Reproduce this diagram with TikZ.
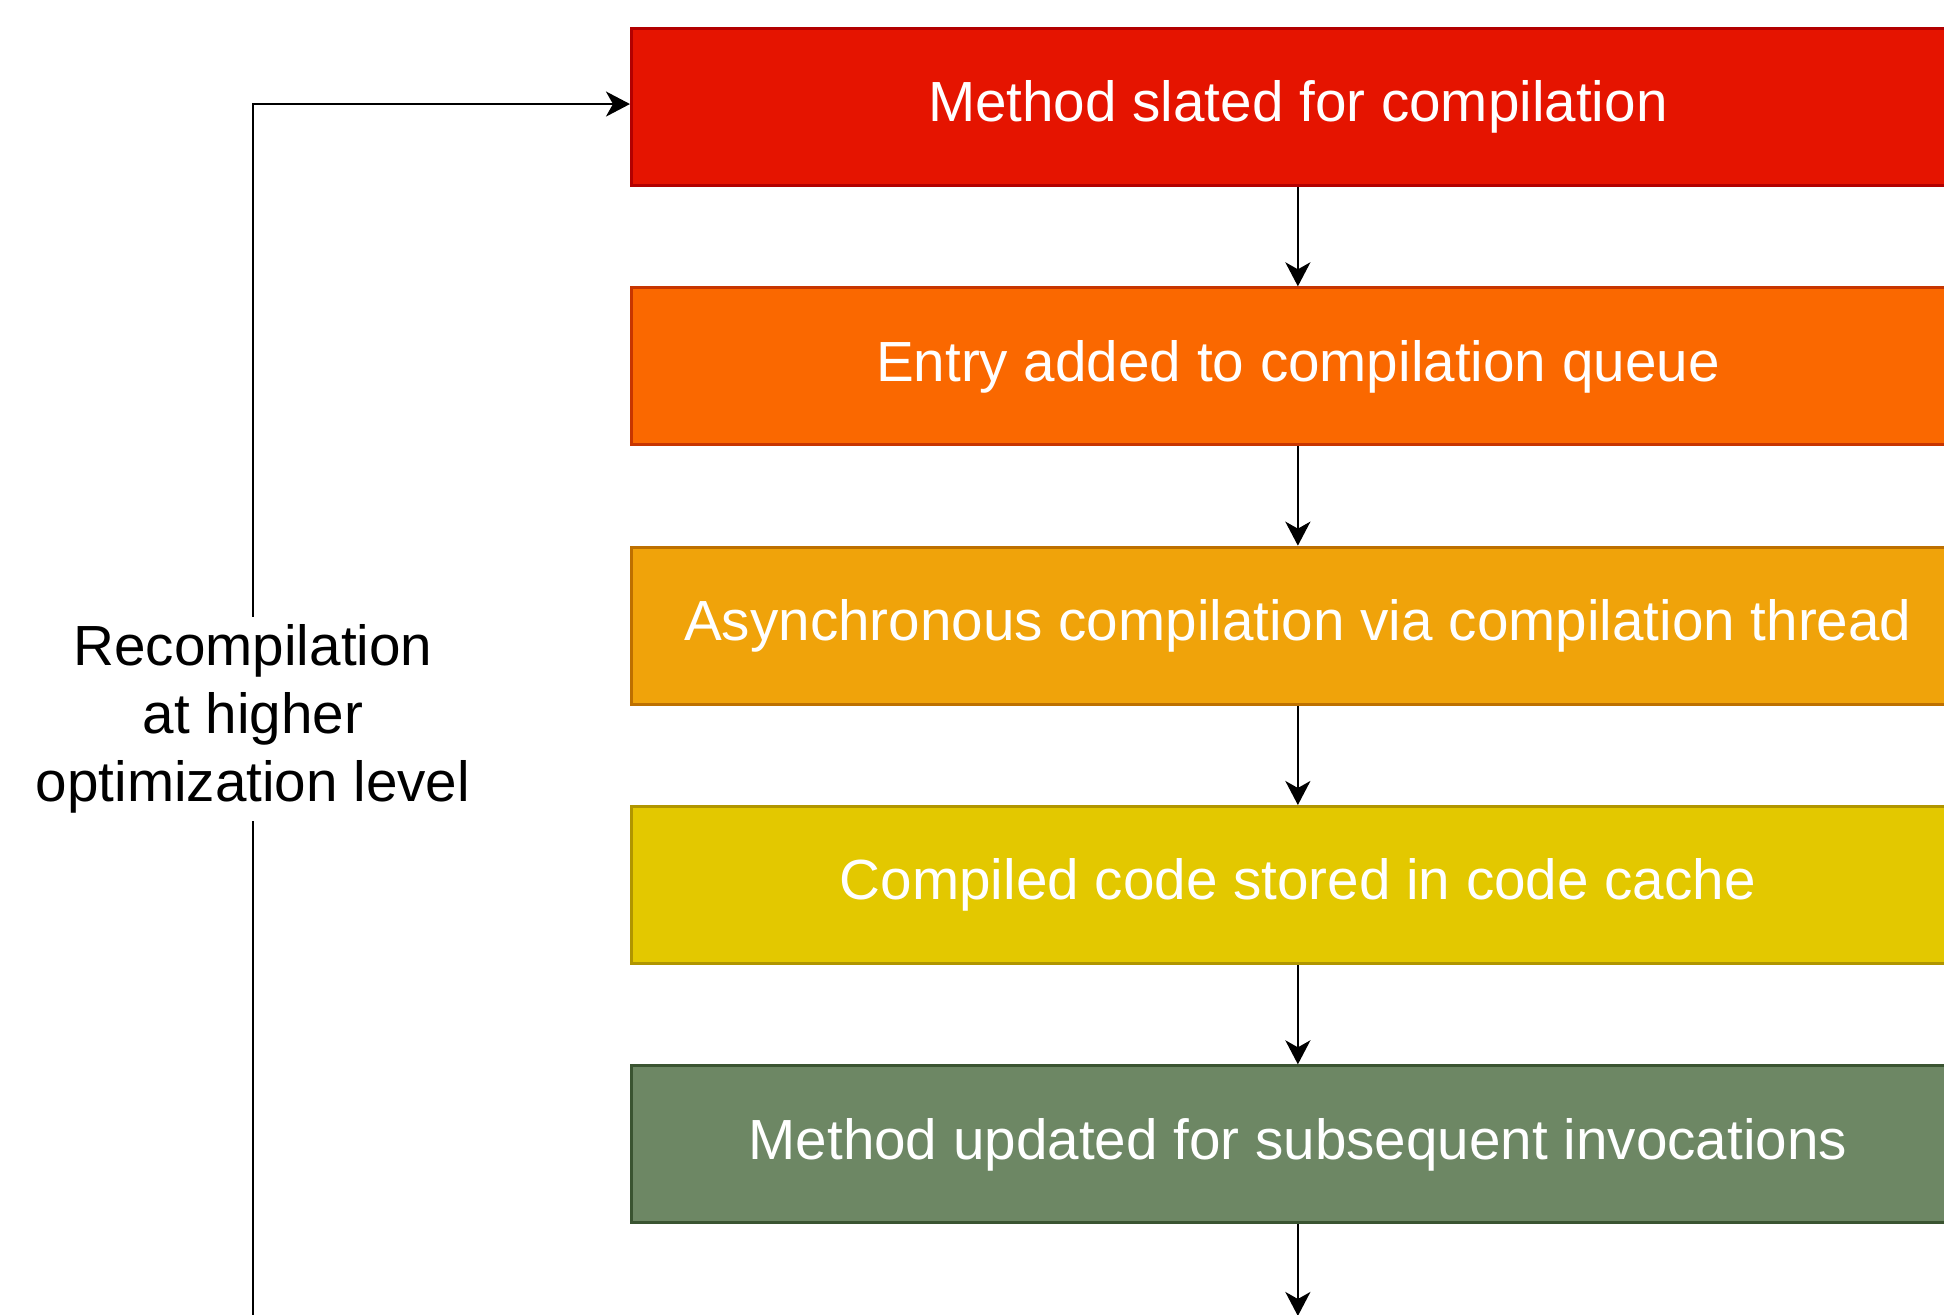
\documentclass[tikz,border=0pt]{standalone}
\usepackage{fontspec}
\setmainfont{Liberation Sans}
\usetikzlibrary{positioning}
\usetikzlibrary{arrows.meta}

\definecolor{slatedfill}{HTML}{E51400}
\definecolor{slatedline}{HTML}{B20000}
\definecolor{queuefill}{HTML}{FA6800}
\definecolor{queueline}{HTML}{C73500}
\definecolor{asyncfill}{HTML}{F0A30A}
\definecolor{asyncline}{HTML}{BD7000}
\definecolor{cachefill}{HTML}{E3C800}
\definecolor{cacheline}{HTML}{B09500}
\definecolor{updatefill}{HTML}{6D8764}
\definecolor{updateline}{HTML}{3A5431}

\tikzset{
  stagebox/.style={rectangle, draw, line width=0.85pt, minimum width=13.32cm,
    minimum height=1.57cm, inner sep=0pt, text=white,
    font=\fontsize{16.1}{19}\selectfont},
  flowarrow/.style={-{Stealth[length=0.24cm,width=0.25cm,inset=0.07cm]},
    line width=0.7pt, black},
  looplabel/.style={fill=white, align=center, inner sep=2pt,
    font=\fontsize{16.1}{19.4}\selectfont},
}

\begin{document}
\begin{tikzpicture}[x=0.01cm, y=-0.01cm]
\useasboundingbox (0,0) rectangle (1944,1315);

\node[stagebox, fill=slatedfill, draw=slatedline, anchor=north west] (slated) at (630,27) {Method slated for compilation};
\node[stagebox, fill=queuefill, draw=queueline, below=0.992cm of slated] (queued) {Entry added to compilation queue};
\node[stagebox, fill=asyncfill, draw=asyncline, below=0.992cm of queued] (async) {Asynchronous compilation via compilation thread};
\node[stagebox, fill=cachefill, draw=cacheline, below=0.992cm of async] (cached) {Compiled code stored in code cache};
\node[stagebox, fill=updatefill, draw=updateline, below=0.992cm of cached] (updated) {Method updated for subsequent invocations};

\coordinate (loopEnd) at (253,1330);
\coordinate (nextStep) at (1296,1316);

\draw[flowarrow] (slated) -- (queued);
\draw[flowarrow] (queued) -- (async);
\draw[flowarrow] (async) -- (cached);
\draw[flowarrow] (cached) -- (updated);
\draw[flowarrow] (updated) -- (updated.south |- nextStep);

% loop back to the top
\draw[flowarrow] (loopEnd) |- ([yshift=0.03cm]slated.west);
\node[looplabel] (recompLabel) at (253,719) {Recompilation\\at higher\\optimization level};
\end{tikzpicture}
\end{document}
